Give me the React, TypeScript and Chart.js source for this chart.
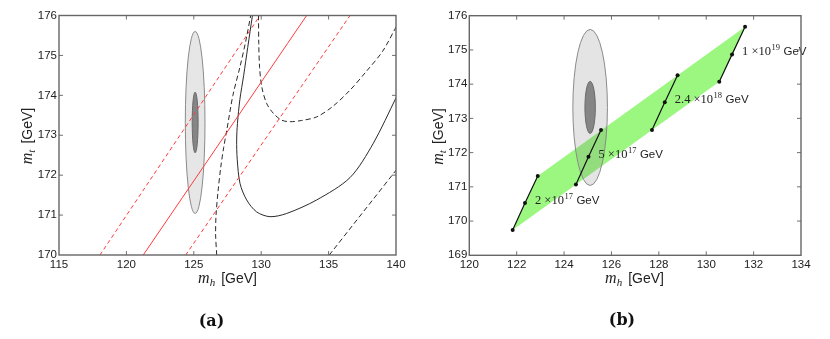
import React, { useEffect, useRef } from "react";
import { Chart, registerables } from "chart.js";
Chart.register(...registerables);

// ---------- Panel (a) data ----------
const aXTickStep = 5;
const aYTickStep = 1;
const redSolidMh = [121.25, 133.37];
const redSolidMt = [170, 176];
const redDashLeftMh = [118.04, 129.91];
const redDashLeftMt = [170, 176];
const redDashRightMh = [124.4, 136.59];
const redDashRightMt = [170, 176];
const blackSolidMh = [129.35, 129.0, 128.7, 128.42, 128.24, 128.18, 128.22, 128.43, 128.92, 129.66, 130.65, 131.89, 134.12, 136.59, 138.32, 140.02];
const blackSolidMt = [176.0, 175.2, 174.5, 173.9, 173.3, 172.88, 172.4, 171.79, 171.38, 171.08, 170.96, 171.04, 171.38, 171.94, 172.8, 173.95];
const blackDashLeftMh = [126.7, 126.62, 126.65, 126.8, 127.0, 127.22, 127.45, 127.9, 128.43, 128.85, 129.22];
const blackDashLeftMt = [170, 170.5, 171.0, 171.6, 172.2, 172.7, 173.13, 174.0, 174.72, 175.35, 176];
const blackDashUMh = [129.8, 129.82, 129.88, 130.05, 130.4, 130.9, 131.5, 132.14, 133.0, 134.12, 135.3, 136.59, 137.8, 139.0, 140.02];
const blackDashUMt = [176, 175.3, 174.7, 174.2, 173.8, 173.55, 173.38, 173.34, 173.37, 173.46, 173.72, 174.13, 174.6, 175.1, 175.72];
const blackDashLowMh = [135.05, 140.02];
const blackDashLowMt = [170, 172.13];

// ---------- Ellipses (both panels) ----------
const ellCenterMh = 125.1;
const ellCenterMt = 173.32;
const ellOuterHalf = [0.73, 2.28];
const ellInnerHalf = [0.22, 0.76];

// ---------- Panel (b) data ----------
const bXTickStep = 2;
const bYTickStep = 1;
const bandMh = [121.83, 122.89, 131.64, 130.55, 121.83];
const bandMt = [169.74, 171.32, 175.68, 174.07, 169.74];
const seg1Mh = [121.83, 122.35, 122.89];
const seg1Mt = [169.74, 170.53, 171.32];
const seg2Mh = [124.5, 125.03, 125.56];
const seg2Mt = [171.07, 171.88, 172.66];
const seg3Mh = [127.71, 128.25, 128.79];
const seg3Mt = [172.66, 173.47, 174.26];
const seg4Mh = [130.55, 131.09, 131.64];
const seg4Mt = [174.07, 174.87, 175.68];
const scaleMantissa = ["2", "5", "2.4", "1"];
const scaleExponent = ["17", "17", "18", "19"];

const pts = (xs: number[], ys: number[]) => xs.map((x, i) => ({ x, y: ys[i] }));

const TICK_FONT = { family: '"Liberation Sans", Arial, sans-serif', size: 11.5 };

function drawTitle(ctx: CanvasRenderingContext2D, sub: string, x: number, y: number, rotate: boolean) {
  ctx.save();
  ctx.translate(x, y);
  if (rotate) ctx.rotate(-Math.PI / 2);
  const mFont = 'italic 16px "Liberation Serif", serif';
  const sFont = 'italic 11px "Liberation Serif", serif';
  const gFont = '14px "Liberation Sans", Arial, sans-serif';
  ctx.font = mFont;
  const wm = ctx.measureText("m").width;
  ctx.font = sFont;
  const ws = ctx.measureText(sub).width;
  ctx.font = gFont;
  const wg = ctx.measureText("[GeV]").width;
  const gap = 6;
  let cx = -(wm + ws + gap + wg) / 2;
  ctx.fillStyle = "#222";
  ctx.textAlign = "left";
  ctx.textBaseline = "alphabetic";
  ctx.font = mFont;
  ctx.fillText("m", cx, 0);
  cx += wm;
  ctx.font = sFont;
  ctx.fillText(sub, cx, 3);
  cx += ws + gap;
  ctx.font = gFont;
  ctx.fillText("[GeV]", cx, 0);
  ctx.restore();
}

function drawEllipses(chart: any, translucent: boolean) {
  const { ctx, scales } = chart;
  const xs = scales.x, ys = scales.y;
  const cx = xs.getPixelForValue(ellCenterMh);
  const cy = ys.getPixelForValue(ellCenterMt);
  const orx = Math.abs(xs.getPixelForValue(ellCenterMh + ellOuterHalf[0]) - cx);
  const ory = Math.abs(ys.getPixelForValue(ellCenterMt + ellOuterHalf[1]) - cy);
  const irx = Math.abs(xs.getPixelForValue(ellCenterMh + ellInnerHalf[0]) - cx);
  const iry = Math.abs(ys.getPixelForValue(ellCenterMt + ellInnerHalf[1]) - cy);
  ctx.save();
  ctx.beginPath();
  ctx.ellipse(cx, cy, orx, ory, 0, 0, Math.PI * 2);
  ctx.fillStyle = translucent ? "rgba(120,120,120,0.2)" : "#e6e6e6";
  ctx.fill();
  ctx.strokeStyle = "#8a8a8a";
  ctx.lineWidth = 1;
  ctx.stroke();
  ctx.beginPath();
  ctx.ellipse(cx, cy, irx, iry, 0, 0, Math.PI * 2);
  ctx.fillStyle = "#858585";
  ctx.fill();
  ctx.strokeStyle = "#6a6a6a";
  ctx.stroke();
  ctx.restore();
}

type Deco = {
  xTitle: [number, number];
  yTitle: [number, number];
  caption: string;
  capPos: [number, number];
};

function framePlugin(d: Deco) {
  return {
    id: "frameDeco",
    afterDraw(chart: any) {
      const { ctx, chartArea, scales } = chart;
      const { left, top, right, bottom } = chartArea;
      ctx.save();
      ctx.strokeStyle = "#707070";
      ctx.lineWidth = 1;
      ctx.beginPath();
      scales.x.ticks.forEach((t: any) => {
        const px = scales.x.getPixelForValue(t.value);
        if (px <= left + 1 || px >= right - 1) return;
        ctx.moveTo(px, bottom);
        ctx.lineTo(px, bottom - 4);
        ctx.moveTo(px, top);
        ctx.lineTo(px, top + 4);
      });
      scales.y.ticks.forEach((t: any) => {
        const py = scales.y.getPixelForValue(t.value);
        if (py <= top + 1 || py >= bottom - 1) return;
        ctx.moveTo(left, py);
        ctx.lineTo(left + 4, py);
        ctx.moveTo(right, py);
        ctx.lineTo(right - 4, py);
      });
      ctx.stroke();
      ctx.lineWidth = 1.4;
      ctx.strokeStyle = "#666";
      ctx.strokeRect(left, top, right - left, bottom - top);
      ctx.restore();
      drawTitle(ctx, "h", d.xTitle[0], d.xTitle[1], false);
      drawTitle(ctx, "t", d.yTitle[0], d.yTitle[1], true);
      ctx.save();
      ctx.font = 'bold 16px "DejaVu Serif", serif';
      ctx.fillStyle = "#111";
      ctx.textAlign = "center";
      ctx.textBaseline = "alphabetic";
      ctx.fillText(d.caption, d.capPos[0], d.capPos[1]);
      ctx.restore();
    },
  };
}

function axes(xMin: number, xMax: number, xStep: number, yMin: number, yMax: number, yStep: number, yWidth: number, xHeight: number) {
  return {
    x: {
      type: "linear",
      min: xMin,
      max: xMax,
      grid: { display: false, drawTicks: false },
      border: { display: false },
      ticks: { stepSize: xStep, font: TICK_FONT, color: "#222", padding: 3, maxRotation: 0 },
      afterFit: (s: any) => { s.height = xHeight; },
    },
    y: {
      type: "linear",
      min: yMin,
      max: yMax,
      grid: { display: false, drawTicks: false },
      border: { display: false },
      ticks: { stepSize: yStep, font: TICK_FONT, color: "#222", padding: 2 },
      afterFit: (s: any) => { s.width = yWidth; },
    },
  };
}

const lineDs = (data: any[], color: string, dash: number[], width = 1) => ({
  data,
  showLine: true,
  borderColor: color,
  borderWidth: width,
  borderDash: dash,
  pointRadius: 0,
  fill: false,
  tension: 0.3,
});

function PanelA() {
  const ref = useRef<HTMLCanvasElement>(null);
  useEffect(() => {
    const chart = new Chart(ref.current as HTMLCanvasElement, {
      type: "scatter",
      data: {
        datasets: [
          lineDs(pts(redSolidMh, redSolidMt), "#ff3b3b", []),
          lineDs(pts(redDashLeftMh, redDashLeftMt), "#ff3b3b", [4, 3]),
          lineDs(pts(redDashRightMh, redDashRightMt), "#ff3b3b", [4, 3]),
          lineDs(pts(blackSolidMh, blackSolidMt), "#2a2a2a", []),
          lineDs(pts(blackDashLeftMh, blackDashLeftMt), "#2a2a2a", [5, 3]),
          lineDs(pts(blackDashUMh, blackDashUMt), "#2a2a2a", [5, 3]),
          lineDs(pts(blackDashLowMh, blackDashLowMt), "#2a2a2a", [5, 3]),
        ] as any,
      },
      options: {
        animation: false,
        responsive: false,
        layout: { padding: { left: 0, top: 15.5, right: 19, bottom: 0 } },
        plugins: { legend: { display: false }, tooltip: { enabled: false } },
        scales: axes(115, 140, aXTickStep, 170, 176, aYTickStep, 59, 84) as any,
      },
      plugins: [
        { id: "ellA", beforeDatasetsDraw: (c: any) => drawEllipses(c, false) },
        framePlugin({ xTitle: [227.5, 283], yTitle: [32, 136], caption: "(a)", capPos: [211.5, 326] }),
      ],
    });
    return () => chart.destroy();
  }, []);
  return <canvas ref={ref} width={415} height={339} style={{ position: "absolute", left: 0, top: 0, width: 415, height: 339 }} />;
}

function PanelB() {
  const ref = useRef<HTMLCanvasElement>(null);
  useEffect(() => {
    const segs = [pts(seg1Mh, seg1Mt), pts(seg2Mh, seg2Mt), pts(seg3Mh, seg3Mt), pts(seg4Mh, seg4Mt)];
    const segDs = segs.map((d) => ({
      data: d,
      showLine: true,
      borderColor: "#111",
      borderWidth: 1.2,
      pointRadius: 2,
      pointBackgroundColor: "#111",
      pointBorderColor: "#111",
      pointBorderWidth: 0,
      fill: false,
      tension: 0,
    }));
    const bandIndex = segDs.length;
    const chart = new Chart(ref.current as HTMLCanvasElement, {
      type: "scatter",
      data: {
        datasets: [
          ...segDs,
          {
            data: pts(bandMh, bandMt),
            showLine: true,
            borderWidth: 0,
            borderColor: "rgba(0,0,0,0)",
            backgroundColor: "rgb(155,247,128)",
            pointRadius: 0,
            fill: "shape",
            tension: 0,
          },
        ] as any,
      },
      options: {
        animation: false,
        responsive: false,
        layout: { padding: { left: 0, top: 15.7, right: 29, bottom: 0 } },
        plugins: { legend: { display: false }, tooltip: { enabled: false } },
        scales: axes(120, 134, bXTickStep, 169, 176, bYTickStep, 54.3, 83.7) as any,
      },
      plugins: [
        {
          id: "ellB",
          afterDatasetDraw: (c: any, args: any) => {
            if (args.index === bandIndex) drawEllipses(c, true);
          },
        },
        {
          id: "segLabels",
          afterDatasetsDraw: (c: any) => {
            const { ctx, scales } = c;
            const mids = [[seg1Mh[1], seg1Mt[1]], [seg2Mh[1], seg2Mt[1]], [seg3Mh[1], seg3Mt[1]], [seg4Mh[1], seg4Mt[1]]];
            ctx.save();
            ctx.fillStyle = "#222";
            ctx.textAlign = "left";
            ctx.textBaseline = "alphabetic";
            mids.forEach((m, i) => {
              let x = scales.x.getPixelForValue(m[0]) + 10;
              const base = scales.y.getPixelForValue(m[1]) + 1;
              ctx.font = '12.5px "Liberation Serif", serif';
              const main = scaleMantissa[i] + " \u00d710";
              ctx.fillText(main, x, base);
              x += ctx.measureText(main).width + 0.5;
              ctx.font = '8.5px "Liberation Serif", serif';
              ctx.fillText(scaleExponent[i], x, base - 5);
              x += ctx.measureText(scaleExponent[i]).width + 3.5;
              ctx.font = '11.5px "Liberation Sans", Arial, sans-serif';
              ctx.fillText("GeV", x, base);
            });
            ctx.restore();
          },
        },
        framePlugin({ xTitle: [219.5, 283], yTitle: [28, 136.5], caption: "(b)", capPos: [207, 325] }),
      ],
    });
    return () => chart.destroy();
  }, []);
  return <canvas ref={ref} width={415} height={339} style={{ position: "absolute", left: 415, top: 0, width: 415, height: 339 }} />;
}

export default function App() {
  return (
    <div style={{ position: "fixed", left: 0, top: 0, width: 830, height: 339, background: "#fff" }}>
      <PanelA />
      <PanelB />
    </div>
  );
}
